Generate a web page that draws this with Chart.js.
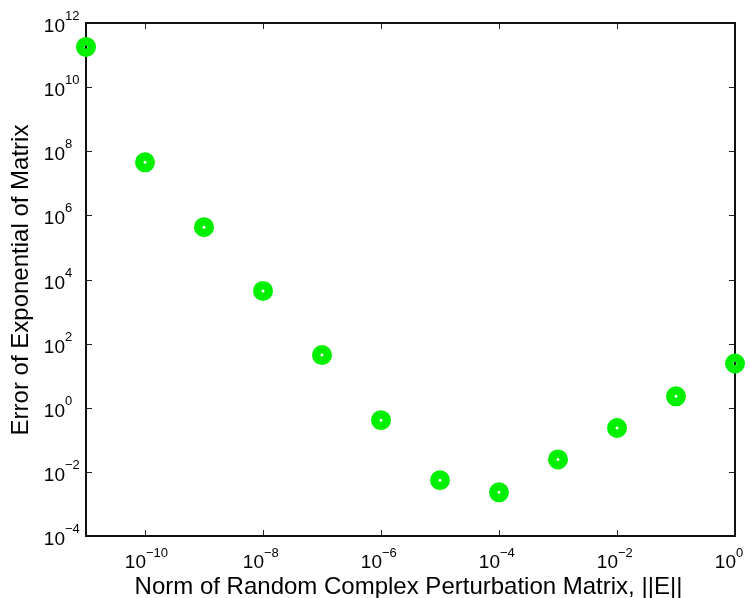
<!DOCTYPE html>
<html>
<head>
<meta charset="utf-8">
<script src="https://cdn.jsdelivr.net/npm/chart.js@4/dist/chart.umd.min.js"></script>
<style>
  html, body { margin: 0; padding: 0; background: #fff; }
  #wrap { width: 750px; height: 598px; }
</style>
</head>
<body>
<div id="wrap"><canvas id="errChart"></canvas></div>
<script>
// perturbation norms ||E|| and the resulting error of expm
const normE = [1e-11, 1e-10, 1e-9, 1e-8, 1e-7, 1e-6, 1e-5, 1e-4, 1e-3, 1e-2, 1e-1, 1e0];
const expmError = [1.8e11, 4.5e7, 4.3e5, 4.4e3, 44, 0.41, 0.0055, 0.0023, 0.0245, 0.234, 2.27, 24];

// decade exponents that get a tick + label
const xTickExp = [-10, -8, -6, -4, -2, 0];
const yTickExp = [-4, -2, 0, 2, 4, 6, 8, 10, 12];

const xTitle = 'Norm of Random Complex Perturbation Matrix, ||E||';
const yTitle = 'Error of Exponential of Matrix';

const FONT = '"Liberation Sans", Arial, Helvetica, sans-serif';

// draws "10" ending at x, with the raised exponent after it
function powLabel(ctx, exp, x, y, supRise) {
  const sup = String(exp).replace('-', '\u2212');
  ctx.textBaseline = 'alphabetic';
  ctx.font = '19px ' + FONT;
  ctx.textAlign = 'right';
  ctx.fillText('10', x, y);
  ctx.font = '13px ' + FONT;
  ctx.textAlign = 'left';
  ctx.fillText(sup, x, y - supRise);
}

const matlabAxes = {
  id: 'matlabAxes',
  beforeDatasetsDraw(chart) {
    const { ctx, chartArea: a, scales } = chart;
    ctx.save();
    // tick marks pointing inward on all four sides
    ctx.strokeStyle = '#222';
    ctx.lineWidth = 1;
    const tl = 6;
    ctx.beginPath();
    xTickExp.forEach(e => {
      const px = Math.round(scales.x.getPixelForValue(Math.pow(10, e))) + 0.5;
      ctx.moveTo(px, a.bottom); ctx.lineTo(px, a.bottom - tl);
      ctx.moveTo(px, a.top); ctx.lineTo(px, a.top + tl);
    });
    yTickExp.forEach(e => {
      const py = Math.round(scales.y.getPixelForValue(Math.pow(10, e))) + 0.5;
      ctx.moveTo(a.left, py); ctx.lineTo(a.left + tl, py);
      ctx.moveTo(a.right, py); ctx.lineTo(a.right - tl, py);
    });
    ctx.stroke();
    // box
    ctx.strokeStyle = '#111';
    ctx.lineWidth = 2;
    ctx.strokeRect(a.left, a.top, a.right - a.left, a.bottom - a.top);
    ctx.restore();
  },
  afterDraw(chart) {
    const { ctx, chartArea: a, scales } = chart;
    ctx.save();
    ctx.fillStyle = '#000';
    xTickExp.forEach(e => {
      const px = scales.x.getPixelForValue(Math.pow(10, e));
      powLabel(ctx, e, px + 1, a.bottom + 32, 11);
    });
    yTickExp.forEach(e => {
      const py = scales.y.getPixelForValue(Math.pow(10, e));
      powLabel(ctx, e, a.left - 21, py + 9, 12);
    });
    // axis titles
    ctx.font = '24px ' + FONT;
    ctx.textAlign = 'center';
    ctx.textBaseline = 'alphabetic';
    ctx.fillText(xTitle, (a.left + a.right) / 2 - 2, 594);
    ctx.translate(28, 280);
    ctx.rotate(-Math.PI / 2);
    ctx.fillText(yTitle, 0, 0);
    ctx.restore();
  }
};

new Chart(document.getElementById('errChart'), {
  type: 'scatter',
  data: {
    datasets: [{
      data: normE.map((v, i) => ({ x: v, y: expmError[i] })),
      pointStyle: 'circle',
      pointRadius: 5.75,
      pointHoverRadius: 5.75,
      pointBorderWidth: 8.5,
      pointHoverBorderWidth: 8.5,
      borderColor: '#00f000',
      backgroundColor: 'rgba(0,0,0,0)',
      showLine: false,
      clip: false
    }]
  },
  options: {
    responsive: true,
    maintainAspectRatio: false,
    animation: false,
    events: [],
    layout: { padding: { left: 78, right: 15, top: 23, bottom: 54 } },
    plugins: { legend: { display: false }, tooltip: { enabled: false } },
    scales: {
      x: {
        type: 'logarithmic',
        min: 1e-11,
        max: 1e0,
        grid: { display: false },
        border: { display: false },
        ticks: { display: false }
      },
      y: {
        type: 'logarithmic',
        min: 1e-4,
        max: 1e12,
        grid: { display: false },
        border: { display: false },
        ticks: { display: false }
      }
    }
  },
  plugins: [matlabAxes]
});
</script>
</body>
</html>
